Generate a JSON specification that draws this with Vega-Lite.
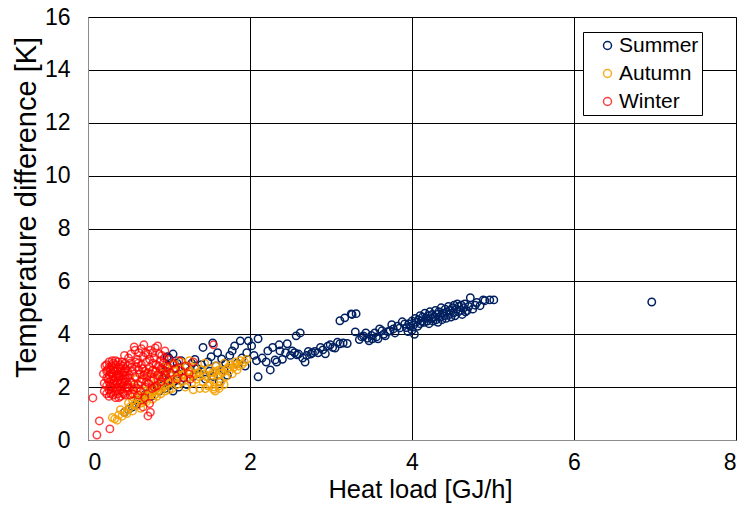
{
  "$schema": "https://vega.github.io/schema/vega-lite/v6.json",
  "width": 648,
  "height": 423,
  "autosize": {"type": "none"},
  "padding": {"left": 88, "top": 17, "right": 8, "bottom": 71},
  "background": "white",
  "config": {
    "font": "Liberation Sans",
    "view": {"stroke": "#8c8c8c", "strokeWidth": 1},
    "axis": {
      "grid": true,
      "gridColor": "#000000",
      "gridWidth": 1,
      "gridOpacity": 1,
      "domainColor": "#8c8c8c",
      "ticks": false,
      "labelFontSize": 23,
      "labelColor": "#000000",
      "titleFontSize": 25.5,
      "titleFontWeight": "normal",
      "titleColor": "#000000"
    }
  },
  "data": {
    "values": [
      {"x":0.45,"y":1.05,"s":"Summer"},{"x":0.5,"y":1.15,"s":"Summer"},{"x":0.55,"y":1.25,"s":"Summer"},{"x":0.6,"y":1.35,"s":"Summer"},{"x":0.62,"y":1.5,"s":"Summer"},{"x":0.68,"y":1.55,"s":"Summer"},{"x":0.7,"y":1.7,"s":"Summer"},{"x":0.75,"y":1.8,"s":"Summer"},{"x":0.78,"y":1.65,"s":"Summer"},{"x":0.8,"y":1.9,"s":"Summer"},{"x":0.85,"y":2.0,"s":"Summer"},{"x":0.88,"y":1.85,"s":"Summer"},{"x":0.9,"y":2.1,"s":"Summer"},
      {"x":0.95,"y":1.95,"s":"Summer"},{"x":1.05,"y":1.85,"s":"Summer"},{"x":1.12,"y":2.0,"s":"Summer"},{"x":1.0,"y":2.05,"s":"Summer"},{"x":1.05,"y":3.25,"s":"Summer"},{"x":0.98,"y":3.15,"s":"Summer"},
      {"x":0.92,"y":2.3,"s":"Summer"},{"x":0.95,"y":2.6,"s":"Summer"},{"x":0.98,"y":2.8,"s":"Summer"},{"x":1.0,"y":3.1,"s":"Summer"},{"x":1.02,"y":2.45,"s":"Summer"},{"x":1.05,"y":2.2,"s":"Summer"},{"x":1.08,"y":2.7,"s":"Summer"},{"x":1.1,"y":2.9,"s":"Summer"},{"x":1.12,"y":2.5,"s":"Summer"},{"x":1.15,"y":3.0,"s":"Summer"},{"x":1.18,"y":2.35,"s":"Summer"},{"x":1.2,"y":2.75,"s":"Summer"},{"x":1.22,"y":2.1,"s":"Summer"},{"x":1.25,"y":2.6,"s":"Summer"},{"x":1.28,"y":2.9,"s":"Summer"},{"x":1.3,"y":2.4,"s":"Summer"},{"x":1.32,"y":3.05,"s":"Summer"},{"x":1.35,"y":2.7,"s":"Summer"},{"x":1.38,"y":2.5,"s":"Summer"},{"x":1.4,"y":2.85,"s":"Summer"},{"x":1.42,"y":3.5,"s":"Summer"},{"x":1.45,"y":2.3,"s":"Summer"},{"x":1.48,"y":2.95,"s":"Summer"},{"x":1.5,"y":2.6,"s":"Summer"},{"x":1.52,"y":3.15,"s":"Summer"},{"x":1.54,"y":3.67,"s":"Summer"},{"x":1.55,"y":2.4,"s":"Summer"},{"x":1.58,"y":2.8,"s":"Summer"},{"x":1.6,"y":3.3,"s":"Summer"},{"x":1.62,"y":2.2,"s":"Summer"},{"x":1.65,"y":3.07,"s":"Summer"},{"x":1.68,"y":2.65,"s":"Summer"},{"x":1.7,"y":2.9,"s":"Summer"},{"x":1.72,"y":2.45,"s":"Summer"},
      {"x":1.75,"y":3.2,"s":"Summer"},{"x":1.78,"y":3.37,"s":"Summer"},{"x":1.81,"y":3.56,"s":"Summer"},{"x":1.84,"y":2.9,"s":"Summer"},{"x":1.88,"y":3.75,"s":"Summer"},{"x":1.9,"y":3.1,"s":"Summer"},{"x":1.94,"y":2.8,"s":"Summer"},{"x":1.96,"y":3.3,"s":"Summer"},{"x":1.98,"y":3.75,"s":"Summer"},{"x":2.02,"y":3.56,"s":"Summer"},{"x":2.05,"y":3.2,"s":"Summer"},{"x":2.08,"y":3.0,"s":"Summer"},{"x":2.1,"y":2.39,"s":"Summer"},{"x":2.1,"y":3.83,"s":"Summer"},{"x":2.15,"y":3.1,"s":"Summer"},{"x":2.2,"y":2.95,"s":"Summer"},{"x":2.22,"y":3.37,"s":"Summer"},{"x":2.25,"y":2.65,"s":"Summer"},{"x":2.28,"y":3.5,"s":"Summer"},{"x":2.31,"y":3.03,"s":"Summer"},{"x":2.33,"y":2.95,"s":"Summer"},{"x":2.36,"y":3.6,"s":"Summer"},{"x":2.37,"y":3.37,"s":"Summer"},{"x":2.4,"y":3.05,"s":"Summer"},{"x":2.44,"y":3.3,"s":"Summer"},{"x":2.46,"y":3.64,"s":"Summer"},{"x":2.5,"y":3.2,"s":"Summer"},{"x":2.52,"y":3.37,"s":"Summer"},{"x":2.55,"y":3.3,"s":"Summer"},{"x":2.57,"y":3.94,"s":"Summer"},{"x":2.58,"y":3.22,"s":"Summer"},{"x":2.6,"y":3.25,"s":"Summer"},{"x":2.62,"y":4.05,"s":"Summer"},
      {"x":2.65,"y":3.1,"s":"Summer"},{"x":2.68,"y":2.95,"s":"Summer"},{"x":2.7,"y":3.2,"s":"Summer"},{"x":2.72,"y":3.35,"s":"Summer"},{"x":2.75,"y":3.25,"s":"Summer"},{"x":2.77,"y":3.3,"s":"Summer"},{"x":2.8,"y":3.35,"s":"Summer"},{"x":2.84,"y":3.3,"s":"Summer"},{"x":2.87,"y":3.5,"s":"Summer"},{"x":2.9,"y":3.41,"s":"Summer"},{"x":2.93,"y":3.26,"s":"Summer"},{"x":2.96,"y":3.55,"s":"Summer"},{"x":2.99,"y":3.6,"s":"Summer"},{"x":3.02,"y":3.5,"s":"Summer"},{"x":3.05,"y":3.48,"s":"Summer"},{"x":3.08,"y":3.7,"s":"Summer"},{"x":3.11,"y":4.51,"s":"Summer"},{"x":3.11,"y":3.64,"s":"Summer"},{"x":3.15,"y":3.67,"s":"Summer"},{"x":3.17,"y":4.62,"s":"Summer"},{"x":3.2,"y":3.65,"s":"Summer"},{"x":3.25,"y":4.77,"s":"Summer"},{"x":3.26,"y":4.75,"s":"Summer"},{"x":3.3,"y":4.09,"s":"Summer"},{"x":3.31,"y":4.78,"s":"Summer"},
      {"x":3.35,"y":3.8,"s":"Summer"},{"x":3.38,"y":3.9,"s":"Summer"},{"x":3.4,"y":3.94,"s":"Summer"},{"x":3.43,"y":4.05,"s":"Summer"},{"x":3.45,"y":3.85,"s":"Summer"},{"x":3.47,"y":3.75,"s":"Summer"},{"x":3.5,"y":3.95,"s":"Summer"},{"x":3.51,"y":3.83,"s":"Summer"},{"x":3.54,"y":4.05,"s":"Summer"},{"x":3.56,"y":3.9,"s":"Summer"},{"x":3.58,"y":3.83,"s":"Summer"},{"x":3.6,"y":4.2,"s":"Summer"},{"x":3.63,"y":4.13,"s":"Summer"},{"x":3.65,"y":4.0,"s":"Summer"},{"x":3.67,"y":3.94,"s":"Summer"},{"x":3.7,"y":4.1,"s":"Summer"},{"x":3.73,"y":4.13,"s":"Summer"},{"x":3.75,"y":4.36,"s":"Summer"},{"x":3.77,"y":4.2,"s":"Summer"},{"x":3.79,"y":4.05,"s":"Summer"},{"x":3.82,"y":4.3,"s":"Summer"},{"x":3.85,"y":4.24,"s":"Summer"},{"x":3.88,"y":4.47,"s":"Summer"},{"x":3.91,"y":4.39,"s":"Summer"},{"x":3.93,"y":4.25,"s":"Summer"},{"x":3.95,"y":4.1,"s":"Summer"},{"x":4.0,"y":4.15,"s":"Summer"},{"x":4.03,"y":4.0,"s":"Summer"},
      {"x":3.96,"y":4.4,"s":"Summer"},{"x":3.98,"y":4.3,"s":"Summer"},{"x":4.0,"y":4.5,"s":"Summer"},{"x":4.02,"y":4.35,"s":"Summer"},{"x":4.04,"y":4.6,"s":"Summer"},{"x":4.05,"y":4.45,"s":"Summer"},{"x":4.07,"y":4.3,"s":"Summer"},{"x":4.08,"y":4.55,"s":"Summer"},{"x":4.1,"y":4.7,"s":"Summer"},{"x":4.1,"y":4.4,"s":"Summer"},{"x":4.12,"y":4.5,"s":"Summer"},{"x":4.13,"y":4.65,"s":"Summer"},{"x":4.15,"y":4.45,"s":"Summer"},{"x":4.16,"y":4.8,"s":"Summer"},{"x":4.18,"y":4.6,"s":"Summer"},{"x":4.19,"y":4.5,"s":"Summer"},{"x":4.2,"y":4.7,"s":"Summer"},{"x":4.21,"y":4.4,"s":"Summer"},{"x":4.22,"y":4.85,"s":"Summer"},{"x":4.24,"y":4.6,"s":"Summer"},{"x":4.25,"y":4.75,"s":"Summer"},{"x":4.26,"y":4.5,"s":"Summer"},{"x":4.28,"y":4.65,"s":"Summer"},{"x":4.29,"y":4.9,"s":"Summer"},{"x":4.3,"y":4.55,"s":"Summer"},{"x":4.31,"y":4.75,"s":"Summer"},{"x":4.32,"y":4.45,"s":"Summer"},{"x":4.33,"y":4.85,"s":"Summer"},{"x":4.35,"y":4.65,"s":"Summer"},{"x":4.36,"y":5.0,"s":"Summer"},{"x":4.37,"y":4.55,"s":"Summer"},{"x":4.38,"y":4.8,"s":"Summer"},{"x":4.4,"y":4.7,"s":"Summer"},{"x":4.41,"y":4.95,"s":"Summer"},{"x":4.42,"y":4.6,"s":"Summer"},{"x":4.43,"y":4.85,"s":"Summer"},{"x":4.45,"y":5.05,"s":"Summer"},{"x":4.46,"y":4.75,"s":"Summer"},{"x":4.47,"y":4.9,"s":"Summer"},{"x":4.48,"y":4.65,"s":"Summer"},{"x":4.5,"y":5.0,"s":"Summer"},{"x":4.51,"y":4.8,"s":"Summer"},{"x":4.52,"y":5.1,"s":"Summer"},{"x":4.53,"y":4.7,"s":"Summer"},{"x":4.55,"y":4.95,"s":"Summer"},{"x":4.56,"y":5.15,"s":"Summer"},{"x":4.57,"y":4.85,"s":"Summer"},{"x":4.58,"y":5.05,"s":"Summer"},{"x":4.6,"y":4.9,"s":"Summer"},{"x":4.61,"y":5.1,"s":"Summer"},{"x":4.62,"y":4.75,"s":"Summer"},{"x":4.64,"y":5.0,"s":"Summer"},{"x":4.65,"y":5.15,"s":"Summer"},{"x":4.66,"y":4.85,"s":"Summer"},{"x":4.68,"y":4.89,"s":"Summer"},{"x":4.7,"y":5.05,"s":"Summer"},{"x":4.72,"y":5.38,"s":"Summer"},{"x":4.75,"y":4.95,"s":"Summer"},{"x":4.78,"y":5.1,"s":"Summer"},{"x":4.8,"y":5.2,"s":"Summer"},{"x":4.84,"y":5.08,"s":"Summer"},{"x":4.88,"y":5.3,"s":"Summer"},{"x":4.9,"y":5.27,"s":"Summer"},{"x":4.96,"y":5.3,"s":"Summer"},{"x":5.01,"y":5.3,"s":"Summer"},
      {"x":6.96,"y":5.22,"s":"Summer"},

      {"x":0.3,"y":0.85,"s":"Autumn"},{"x":0.33,"y":0.8,"s":"Autumn"},{"x":0.36,"y":0.75,"s":"Autumn"},{"x":0.38,"y":0.95,"s":"Autumn"},{"x":0.42,"y":0.9,"s":"Autumn"},{"x":0.45,"y":1.05,"s":"Autumn"},{"x":0.48,"y":1.0,"s":"Autumn"},{"x":0.5,"y":1.15,"s":"Autumn"},{"x":0.52,"y":1.25,"s":"Autumn"},{"x":0.55,"y":1.1,"s":"Autumn"},{"x":0.57,"y":1.35,"s":"Autumn"},{"x":0.6,"y":1.3,"s":"Autumn"},{"x":0.62,"y":1.45,"s":"Autumn"},{"x":0.64,"y":1.55,"s":"Autumn"},{"x":0.66,"y":1.4,"s":"Autumn"},{"x":0.68,"y":1.6,"s":"Autumn"},{"x":0.7,"y":1.5,"s":"Autumn"},{"x":0.72,"y":1.7,"s":"Autumn"},{"x":0.74,"y":1.65,"s":"Autumn"},{"x":0.76,"y":1.8,"s":"Autumn"},{"x":0.78,"y":1.75,"s":"Autumn"},{"x":0.8,"y":1.9,"s":"Autumn"},{"x":0.82,"y":1.7,"s":"Autumn"},{"x":0.84,"y":2.0,"s":"Autumn"},{"x":0.86,"y":1.85,"s":"Autumn"},{"x":0.88,"y":2.1,"s":"Autumn"},{"x":0.9,"y":1.95,"s":"Autumn"},{"x":0.92,"y":2.2,"s":"Autumn"},
      {"x":0.4,"y":1.15,"s":"Autumn"},{"x":0.5,"y":1.4,"s":"Autumn"},{"x":0.6,"y":1.6,"s":"Autumn"},{"x":0.65,"y":1.2,"s":"Autumn"},{"x":0.72,"y":1.45,"s":"Autumn"},{"x":0.8,"y":1.55,"s":"Autumn"},{"x":0.85,"y":1.65,"s":"Autumn"},{"x":0.9,"y":1.75,"s":"Autumn"},{"x":0.95,"y":1.85,"s":"Autumn"},{"x":1.0,"y":1.9,"s":"Autumn"},{"x":0.7,"y":1.85,"s":"Autumn"},{"x":0.55,"y":1.5,"s":"Autumn"},
      {"x":0.55,"y":2.0,"s":"Autumn"},{"x":0.6,"y":2.3,"s":"Autumn"},{"x":0.65,"y":1.9,"s":"Autumn"},{"x":0.7,"y":2.5,"s":"Autumn"},{"x":0.75,"y":2.1,"s":"Autumn"},{"x":0.8,"y":2.6,"s":"Autumn"},{"x":0.85,"y":2.3,"s":"Autumn"},{"x":0.58,"y":1.75,"s":"Autumn"},{"x":0.9,"y":2.5,"s":"Autumn"},{"x":1.0,"y":2.7,"s":"Autumn"},{"x":1.05,"y":2.85,"s":"Autumn"},{"x":1.15,"y":2.95,"s":"Autumn"},{"x":0.95,"y":2.75,"s":"Autumn"},{"x":1.25,"y":3.0,"s":"Autumn"},
      {"x":0.95,"y":2.05,"s":"Autumn"},{"x":0.97,"y":2.35,"s":"Autumn"},{"x":1.0,"y":2.15,"s":"Autumn"},{"x":1.02,"y":2.5,"s":"Autumn"},{"x":1.04,"y":1.95,"s":"Autumn"},{"x":1.06,"y":2.3,"s":"Autumn"},{"x":1.08,"y":2.6,"s":"Autumn"},{"x":1.1,"y":2.1,"s":"Autumn"},{"x":1.12,"y":2.4,"s":"Autumn"},{"x":1.14,"y":2.7,"s":"Autumn"},{"x":1.16,"y":2.2,"s":"Autumn"},{"x":1.18,"y":2.5,"s":"Autumn"},{"x":1.2,"y":2.0,"s":"Autumn"},{"x":1.22,"y":2.8,"s":"Autumn"},{"x":1.24,"y":2.35,"s":"Autumn"},{"x":1.26,"y":2.6,"s":"Autumn"},{"x":1.28,"y":2.15,"s":"Autumn"},{"x":1.3,"y":2.45,"s":"Autumn"},{"x":1.32,"y":2.75,"s":"Autumn"},{"x":1.34,"y":2.3,"s":"Autumn"},{"x":1.36,"y":2.55,"s":"Autumn"},{"x":1.38,"y":1.95,"s":"Autumn"},{"x":1.4,"y":2.65,"s":"Autumn"},{"x":1.42,"y":2.2,"s":"Autumn"},{"x":1.44,"y":2.9,"s":"Autumn"},{"x":1.46,"y":2.4,"s":"Autumn"},{"x":1.48,"y":2.05,"s":"Autumn"},{"x":1.5,"y":2.7,"s":"Autumn"},{"x":1.52,"y":2.3,"s":"Autumn"},{"x":1.54,"y":2.55,"s":"Autumn"},{"x":1.56,"y":2.0,"s":"Autumn"},{"x":1.58,"y":2.8,"s":"Autumn"},{"x":1.6,"y":2.45,"s":"Autumn"},{"x":1.62,"y":2.65,"s":"Autumn"},{"x":1.64,"y":2.2,"s":"Autumn"},{"x":1.66,"y":2.55,"s":"Autumn"},{"x":1.68,"y":2.9,"s":"Autumn"},{"x":1.7,"y":2.4,"s":"Autumn"},{"x":1.72,"y":2.7,"s":"Autumn"},{"x":1.74,"y":2.6,"s":"Autumn"},{"x":1.76,"y":2.85,"s":"Autumn"},{"x":1.78,"y":2.5,"s":"Autumn"},{"x":1.8,"y":2.75,"s":"Autumn"},{"x":1.82,"y":2.95,"s":"Autumn"},{"x":1.84,"y":2.65,"s":"Autumn"},{"x":1.86,"y":2.8,"s":"Autumn"},{"x":1.88,"y":3.0,"s":"Autumn"},{"x":1.9,"y":2.85,"s":"Autumn"},{"x":1.93,"y":2.95,"s":"Autumn"},{"x":1.96,"y":3.05,"s":"Autumn"},
      {"x":1.3,"y":1.9,"s":"Autumn"},{"x":1.45,"y":1.95,"s":"Autumn"},{"x":1.55,"y":1.92,"s":"Autumn"},{"x":1.62,"y":2.05,"s":"Autumn"},{"x":1.5,"y":2.1,"s":"Autumn"},{"x":1.68,"y":2.1,"s":"Autumn"},{"x":1.57,"y":1.85,"s":"Autumn"},{"x":1.62,"y":1.95,"s":"Autumn"},
      {"x":1.03,"y":2.2,"s":"Autumn"},{"x":1.09,"y":2.35,"s":"Autumn"},{"x":1.17,"y":2.45,"s":"Autumn"},{"x":1.23,"y":2.5,"s":"Autumn"},{"x":1.33,"y":2.5,"s":"Autumn"},{"x":1.37,"y":2.4,"s":"Autumn"},{"x":1.43,"y":2.5,"s":"Autumn"},{"x":1.53,"y":2.45,"s":"Autumn"},{"x":1.57,"y":2.6,"s":"Autumn"},{"x":1.63,"y":2.5,"s":"Autumn"},{"x":1.73,"y":2.75,"s":"Autumn"},{"x":1.83,"y":2.85,"s":"Autumn"},

      {"x":0.23,"y":1.75,"s":"Winter"},{"x":0.23,"y":2.05,"s":"Winter"},{"x":0.23,"y":2.35,"s":"Winter"},{"x":0.23,"y":2.6,"s":"Winter"},{"x":0.23,"y":2.85,"s":"Winter"},
      {"x":0.26,"y":1.65,"s":"Winter"},{"x":0.26,"y":1.9,"s":"Winter"},{"x":0.26,"y":2.2,"s":"Winter"},{"x":0.26,"y":2.45,"s":"Winter"},{"x":0.26,"y":2.75,"s":"Winter"},{"x":0.26,"y":2.95,"s":"Winter"},
      {"x":0.29,"y":1.8,"s":"Winter"},{"x":0.29,"y":2.0,"s":"Winter"},{"x":0.29,"y":2.3,"s":"Winter"},{"x":0.29,"y":2.55,"s":"Winter"},{"x":0.29,"y":2.8,"s":"Winter"},
      {"x":0.31,"y":1.7,"s":"Winter"},{"x":0.31,"y":1.95,"s":"Winter"},{"x":0.31,"y":2.15,"s":"Winter"},{"x":0.31,"y":2.4,"s":"Winter"},{"x":0.31,"y":2.65,"s":"Winter"},{"x":0.31,"y":2.9,"s":"Winter"},
      {"x":0.34,"y":1.6,"s":"Winter"},{"x":0.34,"y":1.85,"s":"Winter"},{"x":0.34,"y":2.1,"s":"Winter"},{"x":0.34,"y":2.35,"s":"Winter"},{"x":0.34,"y":2.6,"s":"Winter"},{"x":0.34,"y":2.85,"s":"Winter"},{"x":0.34,"y":3.0,"s":"Winter"},
      {"x":0.37,"y":1.75,"s":"Winter"},{"x":0.37,"y":2.0,"s":"Winter"},{"x":0.37,"y":2.25,"s":"Winter"},{"x":0.37,"y":2.5,"s":"Winter"},{"x":0.37,"y":2.7,"s":"Winter"},{"x":0.37,"y":2.95,"s":"Winter"},
      {"x":0.4,"y":1.65,"s":"Winter"},{"x":0.4,"y":1.9,"s":"Winter"},{"x":0.4,"y":2.15,"s":"Winter"},{"x":0.4,"y":2.4,"s":"Winter"},{"x":0.4,"y":2.6,"s":"Winter"},{"x":0.4,"y":2.85,"s":"Winter"},
      {"x":0.43,"y":1.8,"s":"Winter"},{"x":0.43,"y":2.05,"s":"Winter"},{"x":0.43,"y":2.3,"s":"Winter"},{"x":0.43,"y":2.55,"s":"Winter"},{"x":0.43,"y":2.8,"s":"Winter"},
      {"x":0.46,"y":1.7,"s":"Winter"},{"x":0.46,"y":1.95,"s":"Winter"},{"x":0.46,"y":2.2,"s":"Winter"},{"x":0.46,"y":2.45,"s":"Winter"},{"x":0.46,"y":2.7,"s":"Winter"},{"x":0.46,"y":2.9,"s":"Winter"},
      {"x":0.49,"y":1.85,"s":"Winter"},{"x":0.49,"y":2.1,"s":"Winter"},{"x":0.49,"y":2.35,"s":"Winter"},{"x":0.49,"y":2.6,"s":"Winter"},{"x":0.49,"y":2.8,"s":"Winter"},
      {"x":0.32,"y":2.25,"s":"Winter"},{"x":0.38,"y":2.4,"s":"Winter"},{"x":0.35,"y":1.95,"s":"Winter"},{"x":0.28,"y":2.65,"s":"Winter"},{"x":0.44,"y":2.45,"s":"Winter"},{"x":0.41,"y":2.0,"s":"Winter"},
      {"x":0.25,"y":2.3,"s":"Winter"},{"x":0.27,"y":2.05,"s":"Winter"},{"x":0.3,"y":2.5,"s":"Winter"},{"x":0.33,"y":2.7,"s":"Winter"},{"x":0.36,"y":2.15,"s":"Winter"},{"x":0.39,"y":2.75,"s":"Winter"},{"x":0.42,"y":2.2,"s":"Winter"},{"x":0.45,"y":2.6,"s":"Winter"},{"x":0.48,"y":2.0,"s":"Winter"},{"x":0.24,"y":2.65,"s":"Winter"},{"x":0.47,"y":2.3,"s":"Winter"},{"x":0.35,"y":2.45,"s":"Winter"},{"x":0.28,"y":1.75,"s":"Winter"},{"x":0.44,"y":1.75,"s":"Winter"},{"x":0.38,"y":1.6,"s":"Winter"},{"x":0.3,"y":3.0,"s":"Winter"},{"x":0.42,"y":2.95,"s":"Winter"},
      {"x":0.19,"y":2.5,"s":"Winter"},{"x":0.2,"y":2.15,"s":"Winter"},{"x":0.21,"y":2.8,"s":"Winter"},{"x":0.2,"y":1.85,"s":"Winter"},
      {"x":0.52,"y":2.9,"s":"Winter"},{"x":0.53,"y":2.2,"s":"Winter"},{"x":0.55,"y":2.6,"s":"Winter"},{"x":0.56,"y":1.9,"s":"Winter"},{"x":0.57,"y":3.52,"s":"Winter"},{"x":0.58,"y":2.4,"s":"Winter"},{"x":0.6,"y":2.75,"s":"Winter"},{"x":0.61,"y":3.05,"s":"Winter"},{"x":0.62,"y":2.1,"s":"Winter"},{"x":0.63,"y":3.3,"s":"Winter"},{"x":0.64,"y":2.5,"s":"Winter"},{"x":0.65,"y":1.85,"s":"Winter"},{"x":0.66,"y":2.85,"s":"Winter"},{"x":0.67,"y":2.3,"s":"Winter"},{"x":0.68,"y":3.15,"s":"Winter"},{"x":0.69,"y":3.6,"s":"Winter"},{"x":0.7,"y":2.6,"s":"Winter"},{"x":0.71,"y":2.0,"s":"Winter"},{"x":0.72,"y":2.95,"s":"Winter"},{"x":0.73,"y":2.4,"s":"Winter"},{"x":0.74,"y":3.25,"s":"Winter"},{"x":0.75,"y":2.15,"s":"Winter"},{"x":0.76,"y":2.75,"s":"Winter"},{"x":0.77,"y":3.4,"s":"Winter"},{"x":0.78,"y":2.5,"s":"Winter"},{"x":0.79,"y":1.95,"s":"Winter"},{"x":0.8,"y":2.9,"s":"Winter"},{"x":0.81,"y":2.3,"s":"Winter"},{"x":0.82,"y":3.1,"s":"Winter"},{"x":0.83,"y":3.48,"s":"Winter"},{"x":0.84,"y":2.6,"s":"Winter"},{"x":0.85,"y":2.05,"s":"Winter"},{"x":0.86,"y":3.56,"s":"Winter"},{"x":0.87,"y":2.8,"s":"Winter"},{"x":0.88,"y":2.4,"s":"Winter"},{"x":0.89,"y":3.0,"s":"Winter"},{"x":0.9,"y":2.2,"s":"Winter"},{"x":0.91,"y":3.2,"s":"Winter"},{"x":0.92,"y":2.65,"s":"Winter"},{"x":0.93,"y":2.9,"s":"Winter"},{"x":0.95,"y":3.37,"s":"Winter"},{"x":0.96,"y":2.45,"s":"Winter"},{"x":0.98,"y":2.75,"s":"Winter"},{"x":1.0,"y":3.05,"s":"Winter"},{"x":1.02,"y":2.55,"s":"Winter"},{"x":1.05,"y":2.9,"s":"Winter"},{"x":1.08,"y":2.7,"s":"Winter"},{"x":1.1,"y":2.3,"s":"Winter"},{"x":1.12,"y":3.0,"s":"Winter"},{"x":1.15,"y":2.6,"s":"Winter"},{"x":1.18,"y":2.35,"s":"Winter"},{"x":1.2,"y":2.8,"s":"Winter"},{"x":1.25,"y":2.5,"s":"Winter"},{"x":1.3,"y":2.95,"s":"Winter"},
      {"x":0.51,"y":2.45,"s":"Winter"},{"x":0.54,"y":2.75,"s":"Winter"},{"x":0.57,"y":2.1,"s":"Winter"},{"x":0.59,"y":2.95,"s":"Winter"},{"x":0.6,"y":1.95,"s":"Winter"},{"x":0.63,"y":2.65,"s":"Winter"},{"x":0.65,"y":2.2,"s":"Winter"},{"x":0.67,"y":2.7,"s":"Winter"},{"x":0.69,"y":2.45,"s":"Winter"},{"x":0.71,"y":3.3,"s":"Winter"},{"x":0.72,"y":2.2,"s":"Winter"},{"x":0.74,"y":2.55,"s":"Winter"},{"x":0.76,"y":3.05,"s":"Winter"},{"x":0.78,"y":2.25,"s":"Winter"},{"x":0.8,"y":2.65,"s":"Winter"},{"x":0.82,"y":2.0,"s":"Winter"},{"x":0.84,"y":2.85,"s":"Winter"},{"x":0.86,"y":2.45,"s":"Winter"},{"x":0.88,"y":3.25,"s":"Winter"},{"x":0.9,"y":2.7,"s":"Winter"},{"x":0.92,"y":2.35,"s":"Winter"},{"x":0.94,"y":3.1,"s":"Winter"},{"x":0.97,"y":2.6,"s":"Winter"},{"x":0.99,"y":2.25,"s":"Winter"},{"x":0.53,"y":3.25,"s":"Winter"},{"x":0.58,"y":3.4,"s":"Winter"},{"x":0.66,"y":3.45,"s":"Winter"},{"x":0.8,"y":3.3,"s":"Winter"},{"x":0.55,"y":1.75,"s":"Winter"},{"x":0.62,"y":2.9,"s":"Winter"},{"x":0.5,"y":2.0,"s":"Winter"},{"x":0.52,"y":1.7,"s":"Winter"},
      {"x":0.06,"y":1.59,"s":"Winter"},{"x":0.14,"y":0.72,"s":"Winter"},{"x":0.11,"y":0.19,"s":"Winter"},{"x":0.27,"y":0.42,"s":"Winter"},{"x":0.74,"y":0.91,"s":"Winter"},{"x":0.77,"y":1.05,"s":"Winter"},{"x":0.68,"y":1.25,"s":"Winter"},{"x":0.76,"y":1.38,"s":"Winter"},{"x":1.55,"y":3.6,"s":"Winter"},{"x":1.26,"y":2.3,"s":"Winter"},{"x":0.45,"y":3.2,"s":"Winter"},{"x":0.5,"y":3.1,"s":"Winter"},{"x":0.62,"y":1.7,"s":"Winter"},{"x":0.7,"y":1.6,"s":"Winter"}
    ]
  },
  "mark": {"type": "point", "shape": "circle", "filled": false, "size": 55, "strokeWidth": 1.5},
  "encoding": {
    "x": {
      "field": "x", "type": "quantitative",
      "scale": {"domain": [0, 8], "nice": false},
      "axis": {"values": [0, 2, 4, 6, 8], "title": "Heat load [GJ/h]", "labelPadding": 11, "titlePadding": 3, "titleX": 332}
    },
    "y": {
      "field": "y", "type": "quantitative",
      "scale": {"domain": [0, 16], "nice": false},
      "axis": {"values": [0, 2, 4, 6, 8, 10, 12, 14, 16], "title": "Temperature difference [K]", "labelPadding": 18, "titlePadding": 3, "titleY": 190, "titleFontSize": 29}
    },
    "color": {
      "field": "s", "type": "nominal",
      "scale": {"domain": ["Summer", "Autumn", "Winter"], "range": ["#002060", "#F5A000", "#FF0000"]},
      "legend": {
        "title": null,
        "orient": "none",
        "legendX": 495,
        "legendY": 15,
        "padding": 3,
        "strokeColor": "#000000",
        "fillColor": "#ffffff",
        "labelFontSize": 21,
        "labelColor": "#000000",
        "labelExpr": "datum.label + '\u00a0\u00a0\u00a0'",
        "symbolType": "circle",
        "symbolSize": 64,
        "symbolStrokeWidth": 1.5,
        "symbolOffset": 11,
        "symbolOpacity": 0.6,
        "rowPadding": 6,
        "labelOffset": 1
      }
    },
    "opacity": {
      "field": "s", "type": "nominal",
      "scale": {"domain": ["Summer", "Autumn", "Winter"], "range": [1, 0.75, 0.7]},
      "legend": null
    }
  }
}
